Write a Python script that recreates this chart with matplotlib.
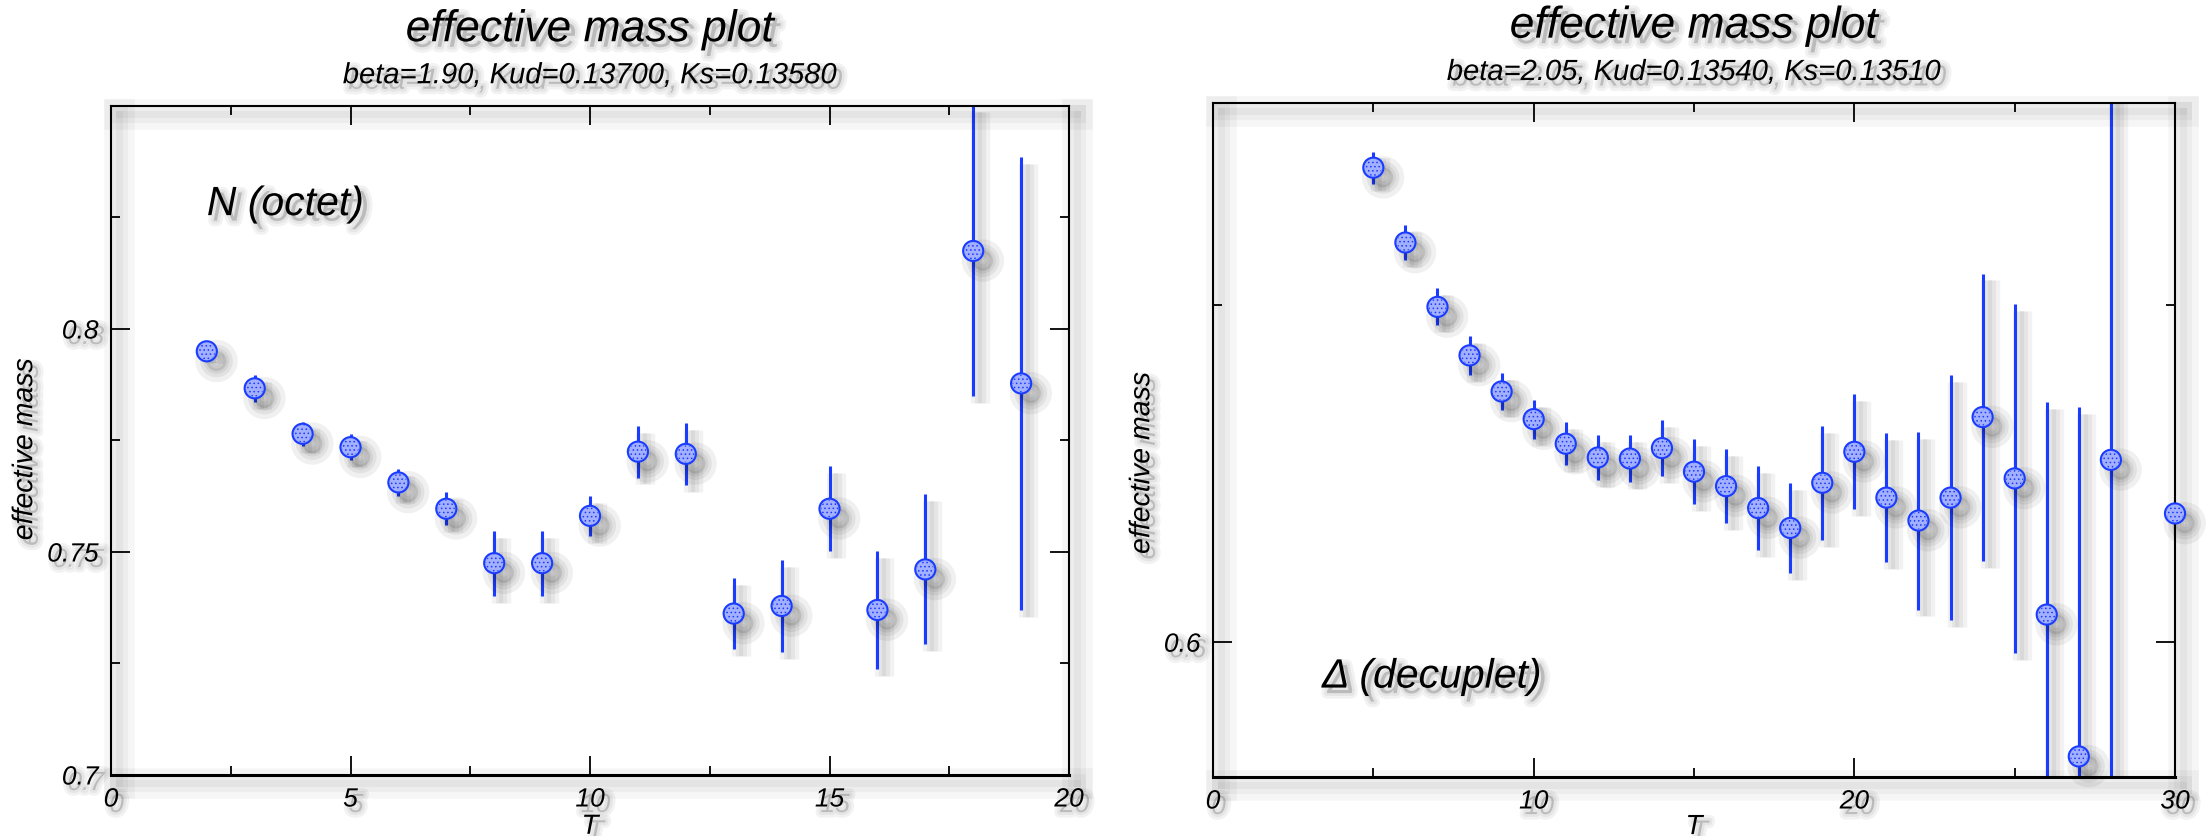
import numpy as np
import matplotlib
matplotlib.use('Agg')
import matplotlib.pyplot as plt
import matplotlib.patheffects as pe
from matplotlib.ticker import MultipleLocator, FormatStrFormatter

plt.rcParams['font.family'] = ['Liberation Sans', 'DejaVu Sans']
plt.rcParams['font.style'] = 'italic'
plt.rcParams['hatch.linewidth'] = 0.6

# N (octet): beta=1.90
t_octet = [2, 3, 4, 5, 6, 7, 8, 9, 10, 11, 12, 13, 14, 15, 16, 17, 18, 19]
m_octet = [0.7950, 0.7867, 0.7765, 0.7735, 0.7656, 0.7597, 0.7475, 0.7475, 0.7581,
           0.7725, 0.7720, 0.7362, 0.7379, 0.7597, 0.7370, 0.7461, 0.8175, 0.7878]
err_octet = [0.0010, 0.0030, 0.0027, 0.0029, 0.0030, 0.0037, 0.0073, 0.0073, 0.0045,
             0.0058, 0.0069, 0.0080, 0.0104, 0.0095, 0.0132, 0.0168, 0.0326, 0.0508]

# Delta (decuplet): beta=2.05
t_dec = [5, 6, 7, 8, 9, 10, 11, 12, 13, 14, 15, 16, 17, 18, 19, 20, 21, 22, 23,
         24, 25, 26, 27, 28, 30]
m_dec = [0.7408, 0.7186, 0.6995, 0.6851, 0.6744, 0.6662, 0.6589, 0.6548, 0.6545,
         0.6576, 0.6506, 0.6463, 0.6398, 0.6339, 0.6473, 0.6565, 0.6429, 0.6361,
         0.6429, 0.6668, 0.6486, 0.6082, 0.5661, 0.6541, 0.6382]
err_dec = [0.0048, 0.0051, 0.0055, 0.0058, 0.0056, 0.0058, 0.0064, 0.0068, 0.0071,
           0.0083, 0.0096, 0.0110, 0.0125, 0.0133, 0.0169, 0.0171, 0.0191, 0.0264,
           0.0364, 0.0426, 0.0518, 0.0631, 0.1037, 0.1500, 0.0050]

BLUE = '#1a3cff'
FILL = '#a3b0ff'


def shadow(offset=(5, -5), widths=(12, 7, 3), alpha=0.06, fill=False, fill_alpha=0.15):
    # soft drop shadow built from a few wide, faint strokes
    fx = [pe.SimpleLineShadow(offset=offset, shadow_color='k', alpha=alpha, linewidth=w)
          for w in widths]
    if fill:
        fx.append(pe.SimplePatchShadow(offset=offset, shadow_rgbFace='k', alpha=fill_alpha))
    fx.append(pe.Normal())
    return fx


TEXT_FX = shadow(offset=(4, -4), widths=(8, 4), alpha=0.05, fill=True, fill_alpha=0.18)


def panel(ax, t, m, err, xlim, ylim, xmaj, xmin, ymin, yticks, subtitle, label, label_xy):
    bars = ax.errorbar(t, m, yerr=err, fmt='none', ecolor=BLUE, elinewidth=2.2, capsize=0)
    for lc in bars.lines[2]:
        lc.set_path_effects(shadow(offset=(5, -5), widths=(14, 8, 3), alpha=0.05))
    ax.plot(t, m, 'o', ms=14.5, mfc=FILL, mec=BLUE, mew=1.5, clip_on=False,
            path_effects=shadow(offset=(7, -7), widths=(16, 9, 4), alpha=0.06, fill=True,
                                fill_alpha=0.1), zorder=3)
    ax.scatter(t, m, s=150, facecolor='none', edgecolor=BLUE, hatch='....', linewidth=0,
               clip_on=False, zorder=4)

    ax.set_xlim(*xlim)
    ax.set_ylim(*ylim)
    ax.xaxis.set_major_locator(MultipleLocator(xmaj))
    ax.xaxis.set_minor_locator(MultipleLocator(xmin))
    ax.set_yticks(yticks)
    ax.yaxis.set_minor_locator(MultipleLocator(ymin))
    ax.yaxis.set_major_formatter(FormatStrFormatter('%g'))
    ax.tick_params(which='both', direction='in', top=True, right=True, width=1.3,
                   labelsize=19, pad=9)
    ax.tick_params(which='major', length=13.5)
    ax.tick_params(which='minor', length=6.5)
    for s in ax.spines.values():
        s.set_linewidth(1.5)
        s.set_path_effects(shadow(offset=(6, -6), widths=(22, 13, 5), alpha=0.035))
    ax.spines['bottom'].set_linewidth(2.2)

    ax.set_xlabel('T', fontsize=20, path_effects=TEXT_FX)
    ax.set_ylabel('effective mass', fontsize=20.5, path_effects=TEXT_FX)
    for lbl in ax.get_xticklabels() + ax.get_yticklabels():
        lbl.set_path_effects(TEXT_FX)

    ax.text(0.5, 1.114, 'effective mass plot', transform=ax.transAxes, ha='center',
            va='center', fontsize=32, path_effects=TEXT_FX)
    ax.text(0.5, 1.046, subtitle, transform=ax.transAxes, ha='center', va='center',
            fontsize=21, path_effects=TEXT_FX)
    ax.text(label_xy[0], label_xy[1], label, ha='left', va='center', fontsize=29.5,
            path_effects=TEXT_FX)


fig = plt.figure(figsize=(22.06, 8.37), dpi=100)
W, H = 2206, 837
ax1 = fig.add_axes([111 / W, (H - 776) / H, 958 / W, 669 / H])
ax2 = fig.add_axes([1213 / W, (H - 778) / H, 962 / W, 674 / H])

panel(ax1, t_octet, m_octet, err_octet, (0, 20), (0.7, 0.85), 5, 2.5, 0.025,
      [0.7, 0.75, 0.8], 'beta=1.90, Kud=0.13700, Ks=0.13580', 'N (octet)', (2.0, 0.828))
panel(ax2, t_dec, m_dec, err_dec, (0, 30), (0.56, 0.76), 10, 5, 0.1,
      [0.6], 'beta=2.05, Kud=0.13540, Ks=0.13510', '\u0394 (decuplet)', (3.4, 0.5898))

ax1.xaxis.set_label_coords(0.5, -0.058)
ax1.yaxis.set_label_coords(-0.076, 0.487)
ax2.xaxis.set_label_coords(0.5, -0.055)
ax2.yaxis.set_label_coords(-0.060, 0.466)

fig.savefig('out.png', dpi=100)
